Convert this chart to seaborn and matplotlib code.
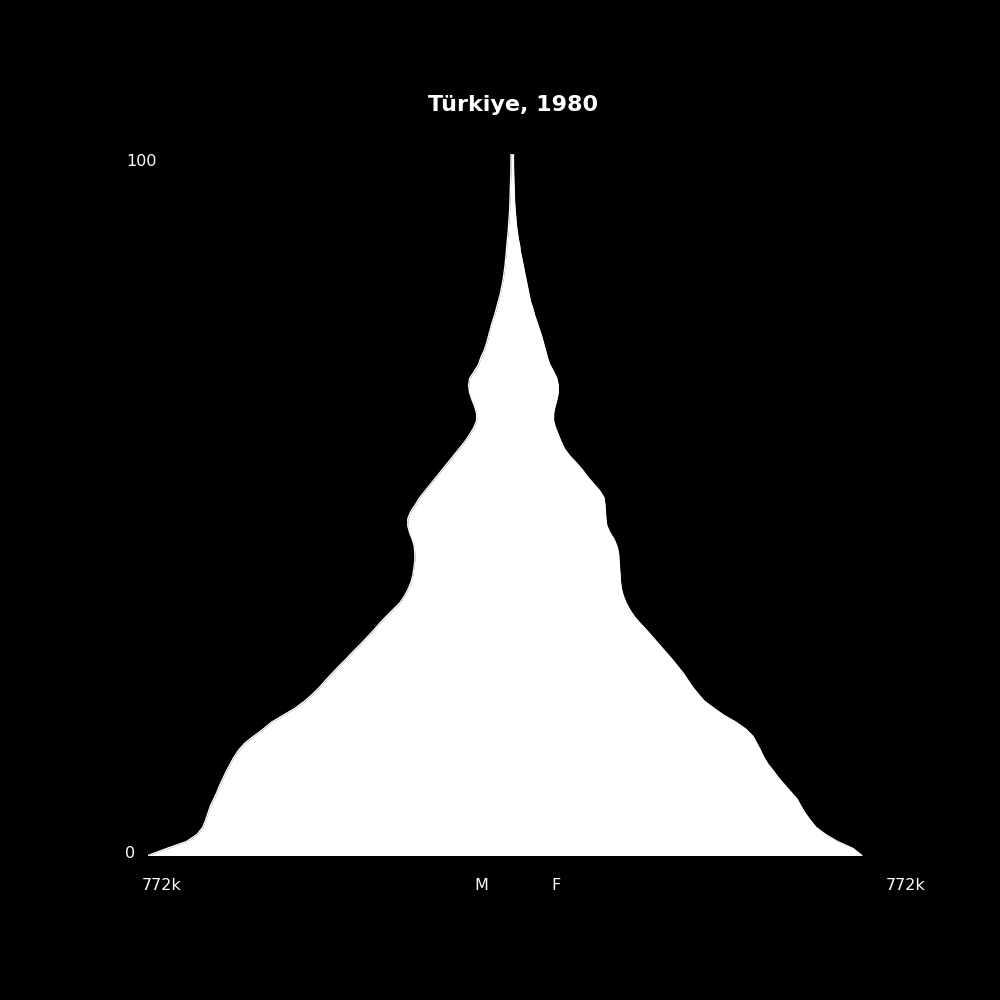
import numpy as np
import pandas as pd
import matplotlib.pyplot as plt
import seaborn as sns

# Population by single year of age, thousands
ages = list(range(0, 101))
male = [772, 732, 690, 668, 656, 650, 645, 640, 633, 626,
        620, 613, 606, 598, 590, 580, 567, 548, 528, 510,
        485, 460, 440, 423, 408, 395, 381, 367, 352, 338,
        323, 309, 295, 282, 268, 253, 238, 228, 220, 214,
        210, 208, 206, 206, 207, 211, 217, 221, 221, 215,
        205, 196, 184, 172, 160, 148, 136, 124, 112, 100,
        90, 81, 75, 75, 79, 85, 90, 92, 90, 80,
        71, 66, 59, 54, 50, 46, 42, 37, 33, 29,
        25, 22, 19, 17, 15, 13.5, 12, 11, 9.5, 8,
        7, 6, 5, 4.5, 4, 3.5, 3, 2.5, 2.3, 2.1,
        2]
female = [742, 723, 690, 665, 645, 633, 622, 613, 605, 592,
          579, 566, 555, 543, 534, 527, 519, 511, 496, 475,
          449, 428, 408, 395, 383, 373, 363, 351, 339, 326,
          313, 300, 287, 273, 260, 250, 242, 236, 232, 230,
          229, 228, 227, 226, 223, 217, 208, 201, 199, 198,
          197, 195, 186, 173, 160, 149, 136, 122, 111, 104,
          98, 92, 88, 88, 91, 95, 98, 98, 95, 88,
          80, 75, 71, 67, 63, 58, 53, 48, 44, 39,
          36, 33, 30, 27, 24, 21, 18, 16, 13, 11,
          9, 8, 6.5, 5.5, 5, 4.5, 4, 3.5, 3.2, 3,
          3]

country = "Türkiye"
year = 1980
max_val = 772

df = pd.DataFrame({"age": ages, "male": male, "female": female})
df["male_neg"] = -df["male"]

sns.set_theme(style="dark", rc={"figure.facecolor": "black",
                                "axes.facecolor": "black"})
plt.rcParams["font.family"] = ["DejaVu Sans"]

fig = plt.figure(figsize=(10, 10), dpi=100)
ax = fig.add_axes([0.148, 0.1445, 0.728, 0.7015])

ax.fill_betweenx(df["age"], df["male_neg"], df["female"], color="white", lw=0)
sns.lineplot(data=df, x="male_neg", y="age", orient="y", color="white", lw=1, ax=ax)
sns.lineplot(data=df, x="female", y="age", orient="y", color="white", lw=1, ax=ax)

ax.set_xlim(-max_val, max_val)
ax.set_ylim(0, 100)
ax.set_axis_off()

# labels
fs = 11.5
fig.text(0.513, 1 - 0.105, f"{country}, {year}", color="white", fontsize=16,
         fontweight="bold", ha="center", va="center")
fig.text(0.126, 1 - 0.161, "100", color="white", fontsize=fs, ha="left", va="center")
fig.text(0.125, 1 - 0.854, "0", color="white", fontsize=fs, ha="left", va="center")
fig.text(0.1615, 1 - 0.886, f"{max_val}k", color="white", fontsize=fs, ha="center", va="center")
fig.text(0.9055, 1 - 0.886, f"{max_val}k", color="white", fontsize=fs, ha="center", va="center")
fig.text(0.481, 1 - 0.886, "M", color="white", fontsize=fs, ha="center", va="center")
fig.text(0.556, 1 - 0.886, "F", color="white", fontsize=fs, ha="center", va="center")

fig.savefig("out.png", dpi=100, facecolor="black")
